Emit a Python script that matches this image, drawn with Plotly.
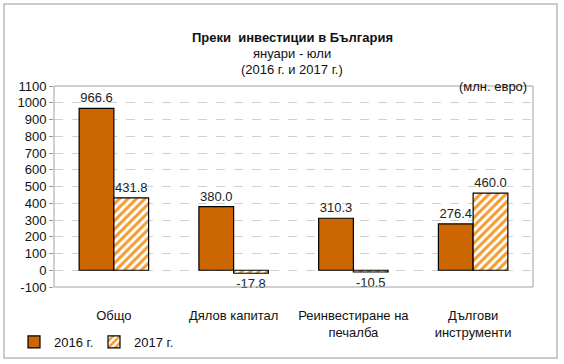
import plotly.graph_objects as go

categories = ["Общо", "Дялов капитал", "Реинвестиране на<br>печалба", "Дългови<br>инструменти"]
values_2016 = [966.6, 380.0, 310.3, 276.4]
values_2017 = [431.8, -17.8, -10.5, 460.0]
series_names = ["2016 г.", "2017 г."]
y_ticks = [-100, 0, 100, 200, 300, 400, 500, 600, 700, 800, 900, 1000, 1100]

FONT = "Liberation Sans, Arial, sans-serif"
W, H = 564, 364
L, R, T, B = 54, 31, 86, 77
PW, PH = W - L - R, H - T - B

def px_x(x):
    return (x - L) / PW

def px_y(y):
    return (H - B - y) / PH

fig = go.Figure()
fig.add_trace(go.Bar(
    x=categories, y=values_2016, name=series_names[0],
    marker=dict(color="#CC6600", line=dict(color="#000000", width=1.2)),
    text=[f"{v:.1f}" for v in values_2016], textposition="outside",
    textfont=dict(size=13, color="#222"), cliponaxis=False,
))
fig.add_trace(go.Bar(
    x=categories, y=values_2017, name=series_names[1],
    marker=dict(color="#FFFFFF", line=dict(color="#000000", width=1.2),
                pattern=dict(shape="/", fgcolor="#F59A2E", bgcolor="#FFFFFF",
                             size=6, solidity=0.5)),
    text=[f"{v:.1f}" for v in values_2017], textposition="outside",
    textfont=dict(size=13, color="#222"), cliponaxis=False,
))

fig.update_layout(
    template="none",
    width=W, height=H,
    margin=dict(l=L, r=R, t=T, b=B, autoexpand=False),
    paper_bgcolor="white", plot_bgcolor="white",
    font=dict(family=FONT, size=13, color="#111"),
    barmode="group", bargap=0.42, bargroupgap=0,
    showlegend=True,
    legend=dict(orientation="h", x=14 / W, y=7 / H, xref="container", yref="container",
                xanchor="left", yanchor="bottom", font=dict(size=13),
                itemwidth=30, entrywidth=35, entrywidthmode="pixels",
                traceorder="normal", bgcolor="rgba(0,0,0,0)"),
    xaxis=dict(showline=False, ticks="", tickfont=dict(size=13), showgrid=False,
               automargin=False, ticklabelstandoff=19),
    yaxis=dict(range=[-100, 1100], tickvals=y_ticks, ticktext=[str(v) for v in y_ticks],
               showgrid=True, gridcolor="#D0D0D0", griddash="dash", gridwidth=1,
               zeroline=False, ticks="outside", ticklen=4, tickcolor="#999",
               showline=False, automargin=False,
               tickfont=dict(size=13)),
    shapes=[
        dict(type="rect", xref="paper", yref="paper",
             x0=px_x(4), x1=px_x(557), y0=px_y(358), y1=px_y(4),
             line=dict(color="#BBBBBB", width=1.5)),
        dict(type="rect", xref="paper", yref="paper", x0=0, x1=1, y0=0, y1=1,
             line=dict(color="#A0A0A0", width=1), layer="above"),
    ],
    annotations=[
        dict(text="<b>Преки  инвестиции в България</b>", x=px_x(292), y=px_y(28),
             xref="paper", yref="paper", showarrow=False, font=dict(size=13)),
        dict(text="януари - юли", xref="paper", yref="paper", x=px_x(292), y=px_y(44),
             showarrow=False, font=dict(size=13)),
        dict(text="(2016 г. и 2017 г.)", xref="paper", yref="paper", x=px_x(292),
             y=px_y(60), showarrow=False, font=dict(size=13)),
        dict(text="(млн. евро)", xref="paper", yref="paper", x=px_x(529), y=px_y(77),
             showarrow=False, font=dict(size=13), xanchor="right"),
    ],
)

fig.write_html("out.html", config={"displayModeBar": False},
               post_script="document.body.style.margin='0';document.body.style.overflow='hidden';")
